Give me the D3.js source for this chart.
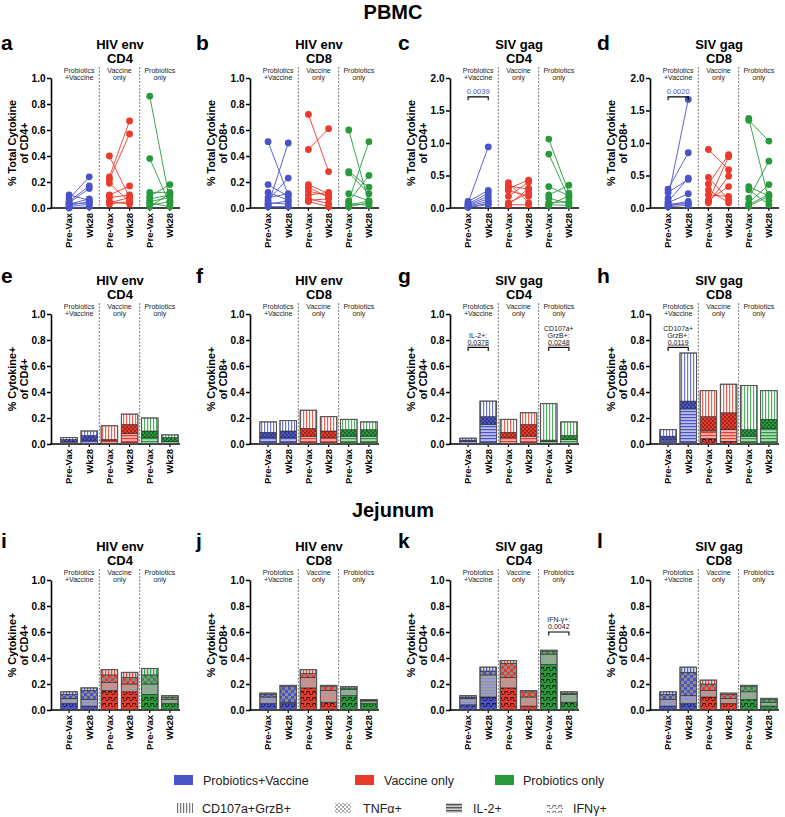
<!DOCTYPE html>
<html><head><meta charset="utf-8">
<script src="https://cdn.jsdelivr.net/npm/d3@7"></script>
<style>
body{margin:0;background:#fff}
svg{display:block;font-family:"Liberation Sans",Arial,Helvetica,sans-serif}
</style>
</head><body>
<svg id="c" width="785" height="817"></svg>
<script>
// ---------- data ----------
const groups = ["Probiotics+Vaccine","Vaccine only","Probiotics only"];
const groupLines = [["Probiotics","+Vaccine"],["Vaccine","only"],["Probiotics","only"]];
const timepoints = ["Pre-Vax","Wk28"];
const cytokines = ["IFNγ+","IL-2+","TNFα+","CD107a+GrzB+"]; // stack order, bottom to top
const legendCytokines = ["CD107a+GrzB+","TNFα+","IL-2+","IFNγ+"];
const groupColors = ["#4a54c8","#e93a2b","#299a3b"];
const ticksTo1 = [0,0.2,0.4,0.6,0.8,1.0];
const ticksTo2 = [0,0.5,1.0,1.5,2.0];

// paired [Pre-Vax, Wk28] per animal
const aBlue  = [[0.10,0.06],[0.07,0.24],[0.05,0.17],[0.04,0.15],[0.03,0.07],[0.03,0.04],[0.02,0.05],[0.01,0.03],[0.00,0.01]];
const aRed   = [[0.40,0.08],[0.24,0.67],[0.22,0.57],[0.19,0.05],[0.10,0.17],[0.08,0.10],[0.05,0.03],[0.04,0.08],[0.03,0.05]];
const aGreen = [[0.86,0.05],[0.38,0.03],[0.12,0.12],[0.09,0.18],[0.07,0.10],[0.05,0.08],[0.04,0.01],[0.02,0.05],[0.01,0.11]];

const bBlue  = [[0.51,0.10],[0.18,0.09],[0.12,0.06],[0.08,0.11],[0.06,0.23],[0.04,0.03],[0.03,0.055],[0.02,0.50],[0.01,0.01]];
const bRed   = [[0.72,0.28],[0.45,0.61],[0.18,0.11],[0.16,0.08],[0.13,0.095],[0.10,0.12],[0.07,0.035],[0.06,0.07],[0.05,0.01]];
const bGreen = [[0.60,0.04],[0.28,0.16],[0.27,0.11],[0.11,0.055],[0.055,0.51],[0.05,0.25],[0.035,0.02],[0.01,0.04],[0.02,0.055]];

const cBlue  = [[0.10,0.27],[0.08,0.94],[0.06,0.23],[0.05,0.18],[0.04,0.14],[0.03,0.10],[0.02,0.07],[0.01,0.05]];
const cRed   = [[0.39,0.08],[0.34,0.29],[0.30,0.43],[0.27,0.18],[0.18,0.40],[0.08,0.23],[0.05,0.05],[0.05,0.30]];
const cGreen = [[1.06,0.23],[0.83,0.15],[0.33,0.19],[0.20,0.35],[0.15,0.07],[0.08,0.10],[0.05,0.04],[0.04,0.19]];

const dBlue  = [[0.29,0.85],[0.24,0.44],[0.15,1.67],[0.10,0.46],[0.08,0.22],[0.05,0.10],[0.03,0.08],[0.02,0.04],[0.06,0.06]];
const dRed   = [[0.90,0.59],[0.47,0.13],[0.37,0.82],[0.28,0.08],[0.10,0.79],[0.08,0.49],[0.12,0.33],[0.20,0.18]];
const dGreen = [[1.38,0.12],[1.35,1.03],[0.33,0.18],[0.28,0.05],[0.15,0.72],[0.08,0.36],[0.05,0.21],[0.03,0.18]];

// stacked bars: 6 bars (group x timepoint), each [IFNγ, IL-2, TNFα, CD107a]
const barsE = [[0.005,0.01,0.02,0.015],[0.005,0.02,0.04,0.035],[0.005,0.02,0.01,0.105],[0.01,0.07,0.07,0.08],[0.005,0.045,0.05,0.10],[0.005,0.015,0.03,0.02]];
const barsF = [[0.01,0.04,0.04,0.08],[0.01,0.04,0.05,0.08],[0.01,0.05,0.06,0.14],[0.01,0.04,0.05,0.11],[0.01,0.05,0.05,0.08],[0.01,0.05,0.05,0.06]];
const barsG = [[0.005,0.015,0.01,0.015],[0.01,0.14,0.06,0.12],[0.005,0.045,0.04,0.10],[0.01,0.05,0.09,0.09],[0.005,0.015,0.01,0.28],[0.005,0.03,0.03,0.105]];
const barsH = [[0.01,0.02,0.03,0.05],[0.01,0.26,0.06,0.37],[0.04,0.06,0.11,0.20],[0.02,0.09,0.13,0.22],[0.01,0.05,0.05,0.34],[0.01,0.11,0.07,0.22]];

const barsI = [[0.05,0.04,0.03,0.02],[0.03,0.05,0.07,0.02],[0.15,0.06,0.06,0.04],[0.14,0.06,0.05,0.04],[0.12,0.08,0.07,0.05],[0.05,0.03,0.02,0.01]];
const barsJ = [[0.05,0.05,0.02,0.01],[0.05,0.01,0.12,0.01],[0.17,0.08,0.03,0.03],[0.06,0.09,0.03,0.01],[0.11,0.05,0.01,0.01],[0.05,0.02,0.005,0.005]];
const barsK = [[0.04,0.05,0.01,0.01],[0.10,0.17,0.03,0.03],[0.17,0.08,0.11,0.02],[0.03,0.07,0.04,0.01],[0.35,0.08,0.02,0.01],[0.06,0.06,0.01,0.01]];
const barsL = [[0.03,0.05,0.04,0.02],[0.05,0.06,0.18,0.04],[0.10,0.05,0.05,0.03],[0.05,0.04,0.03,0.01],[0.08,0.06,0.04,0.01],[0.03,0.03,0.02,0.01]];

const linePanels = [
  {letter:"a", title:["HIV env","CD4"], ylab:["% Total Cytokine","of CD4+"], ymax:1, ticks:ticksTo1, data:[aBlue,aRed,aGreen]},
  {letter:"b", title:["HIV env","CD8"], ylab:["% Total Cytokine","of CD8+"], ymax:1, ticks:ticksTo1, data:[bBlue,bRed,bGreen]},
  {letter:"c", title:["SIV gag","CD4"], ylab:["% Total Cytokine","of CD4+"], ymax:2, ticks:ticksTo2, data:[cBlue,cRed,cGreen], sig:{group:0,y:1.71,text:"0.0039"}},
  {letter:"d", title:["SIV gag","CD8"], ylab:["% Total Cytokine","of CD8+"], ymax:2, ticks:ticksTo2, data:[dBlue,dRed,dGreen], sig:{group:0,y:1.71,text:"0.0020"}}
];
const pbmcBarPanels = [
  {letter:"e", title:["HIV env","CD4"], ylab:["% Cytokine+","of CD4+"], data:barsE},
  {letter:"f", title:["HIV env","CD8"], ylab:["% Cytokine+","of CD8+"], data:barsF},
  {letter:"g", title:["SIV gag","CD4"], ylab:["% Cytokine+","of CD4+"], data:barsG,
    notes:[{group:0,y:0.742,lines:["IL-2+:","0.0378"]},{group:2,y:0.742,lines:["CD107a+","GrzB+:","0.0248"]}]},
  {letter:"h", title:["SIV gag","CD8"], ylab:["% Cytokine+","of CD8+"], data:barsH,
    notes:[{group:0,y:0.742,lines:["CD107a+","GrzB+:","0.0119"]}]}
];
const jejBarPanels = [
  {letter:"i", title:["HIV env","CD4"], ylab:["% Cytokine+","of CD4+"], data:barsI},
  {letter:"j", title:["HIV env","CD8"], ylab:["% Cytokine+","of CD8+"], data:barsJ},
  {letter:"k", title:["SIV gag","CD4"], ylab:["% Cytokine+","of CD4+"], data:barsK,
    notes:[{group:2,y:0.60,lines:["IFN-γ+:","0.0042"]}]},
  {letter:"l", title:["SIV gag","CD8"], ylab:["% Cytokine+","of CD8+"], data:barsL}
];

// ---------- layout ----------
const axisXs = [51,250,450,650];
const letterXs = [1,196,398,597];
const rowTops = [78,314,580];
const letterYs = [50,283,548];
const PH = 130, PW = 129;
const keys = ["g0pre","g0wk","g1pre","g1wk","g2pre","g2wk"];

const svg = d3.select("#c");
const defs = svg.append("defs");

function pattern(id,w,h,draw){
  const p = defs.append("pattern").attr("id",id).attr("patternUnits","userSpaceOnUse").attr("width",w).attr("height",h);
  draw(p);
}
function ifnMarks(p, bg, ink){
  p.append("rect").attr("width",6).attr("height",6).attr("fill",bg);
  p.append("path").attr("d","M0.8,4.2V1.5H3.6M3.6,1.5V3.2M3.6,4.5H5.6").attr("stroke",ink).attr("stroke-width",0.9).attr("fill","none");
}
["pbmc","jej"].forEach(style=>{
  groupColors.forEach((col,gi)=>{
    const pre = `p-${style}-${gi}`;
    // IFN
    pattern(`${pre}-0`,6,6,p=>ifnMarks(p,col,"#111"));
    // IL-2 horizontal stripes
    pattern(`${pre}-1`,3,3,p=>{
      p.append("rect").attr("width",3).attr("height",3).attr("fill", style==="pbmc" ? d3.interpolateRgb(col,"#fff")(0.62) : "#a2a2a2");
      p.append("rect").attr("width",3).attr("height",1.2).attr("fill", style==="pbmc" ? col : d3.interpolateRgb(col,"#fff")(0.35));
    });
    // TNF checker
    const cs = style==="pbmc" ? 2 : 3;
    pattern(`${pre}-2`,cs*2,cs*2,p=>{
      const dk = style==="pbmc" ? d3.color(col).darker(1.1).formatHex() : "#8d8d8d";
      p.append("rect").attr("width",cs*2).attr("height",cs*2).attr("fill",col);
      p.append("rect").attr("width",cs).attr("height",cs).attr("fill",dk);
      p.append("rect").attr("x",cs).attr("y",cs).attr("width",cs).attr("height",cs).attr("fill",dk);
    });
    // CD107a vertical stripes
    pattern(`${pre}-3`,3,3,p=>{
      p.append("rect").attr("width",3).attr("height",3).attr("fill", style==="pbmc" ? "#fff" : "#d8d8d8");
      p.append("rect").attr("width",1.2).attr("height",3).attr("fill", col).attr("opacity", style==="pbmc"?0.8:0.9);
    });
  });
});
// legend patterns (gray)
pattern("leg-cd107",3,3,p=>{p.append("rect").attr("width",3).attr("height",3).attr("fill","#fff");p.append("rect").attr("width",1.2).attr("height",3).attr("fill","#777");});
pattern("leg-tnf",4,4,p=>{p.append("rect").attr("width",4).attr("height",4).attr("fill","#fff");p.append("rect").attr("width",2).attr("height",2).attr("fill","#aaa");p.append("rect").attr("x",2).attr("y",2).attr("width",2).attr("height",2).attr("fill","#aaa");});
pattern("leg-il2",3,3,p=>{p.append("rect").attr("width",3).attr("height",3).attr("fill","#d0d0d0");p.append("rect").attr("width",3).attr("height",1.4).attr("fill","#555");});
pattern("leg-ifn",6,6,p=>ifnMarks(p,"#fff","#666"));

// section titles
svg.append("text").attr("x",393).attr("y",19).attr("text-anchor","middle").attr("font-size",20).attr("font-weight","bold").text("PBMC");
svg.append("text").attr("x",393).attr("y",517).attr("text-anchor","middle").attr("font-size",20).attr("font-weight","bold").text("Jejunum");

function frame(cfg, col, row, ymax, ticks){
  const ax = axisXs[col], top = rowTops[row], bot = top + PH;
  const g = svg.append("g");
  g.append("text").attr("x",letterXs[col]).attr("y",letterYs[row]).attr("font-size",21).attr("font-weight","bold").text(cfg.letter);
  g.append("text").attr("x",ax+69).attr("y",top-29.5).attr("text-anchor","middle").attr("font-size",13).attr("font-weight","bold").text(cfg.title[0]);
  g.append("text").attr("x",ax+69).attr("y",top-15.5).attr("text-anchor","middle").attr("font-size",13).attr("font-weight","bold").text(cfg.title[1]);
  // y label
  const cy = top + PH/2;
  g.append("text").attr("transform",`translate(${ax-35},${cy}) rotate(-90)`).attr("text-anchor","middle").attr("font-size",10.8).attr("font-weight","bold").text(cfg.ylab[0]);
  g.append("text").attr("transform",`translate(${ax-23},${cy}) rotate(-90)`).attr("text-anchor","middle").attr("font-size",10.8).attr("font-weight","bold").text(cfg.ylab[1]);

  const y = d3.scaleLinear().domain([0,ymax]).range([bot,top]);
  const x = d3.scaleBand().domain(keys).range([ax+8, ax+PW]).paddingInner(0.18).paddingOuter(0.09);
  const step = x.step();
  // dividers
  [2,4].forEach(i=>{
    const dx = x(keys[i]) - step*0.09;
    g.append("line").attr("x1",dx).attr("x2",dx).attr("y1",top-11).attr("y2",bot)
      .attr("stroke","#555").attr("stroke-width",0.8).attr("stroke-dasharray","2,1.5");
  });
  // group labels
  groupLines.forEach((ln,gi)=>{
    const gx = (x(keys[2*gi]) + x(keys[2*gi+1]) + x.bandwidth())/2;
    g.append("text").attr("x",gx).attr("y",top-5.5).attr("text-anchor","middle").attr("font-size",7).attr("fill","#222").text(ln[0]);
    g.append("text").attr("x",gx).attr("y",top+2).attr("text-anchor","middle").attr("font-size",7).attr("fill","#222").text(ln[1]);
  });
  // axes
  const ya = g.append("g").attr("transform",`translate(${ax},0)`)
    .call(d3.axisLeft(y).tickValues(ticks).tickFormat(d3.format(".1f")).tickSize(4).tickPadding(1.5).tickSizeOuter(0));
  ya.select(".domain").attr("stroke","#000").attr("stroke-width",1.6);
  ya.selectAll(".tick line").attr("stroke","#000").attr("stroke-width",1.5);
  ya.selectAll(".tick text").attr("font-size",10).attr("font-weight","bold").attr("fill","#000").attr("font-family",null);
  const xa = g.append("g").attr("transform",`translate(0,${bot})`)
    .call(d3.axisBottom(x).tickSize(3).tickSizeOuter(0).tickFormat(k=>k.endsWith("pre")?timepoints[0]:timepoints[1]));
  xa.select(".domain").remove();
  xa.selectAll(".tick line").attr("stroke","#000").attr("stroke-width",1.2);
  xa.selectAll(".tick text").attr("transform","rotate(-90)").attr("x",-5).attr("y",0).attr("dy","0.35em")
    .style("text-anchor","end").attr("font-size",9.5).attr("font-weight","bold").attr("fill","#000").attr("font-family",null);
  g.append("line").attr("x1",ax-0.8).attr("x2",ax+PW).attr("y1",bot).attr("y2",bot).attr("stroke","#000").attr("stroke-width",1.6);
  return {g,x,y,ax,top,bot};
}

function bracket(g, x1, x2, yy, color){
  g.append("path").attr("d",`M${x1},${yy+3.5}V${yy}H${x2}V${yy+3.5}`).attr("fill","none").attr("stroke",color).attr("stroke-width",1.1);
}

// ---------- row 1: paired lines ----------
linePanels.forEach((cfg,col)=>{
  const f = frame(cfg,col,0,cfg.ymax,cfg.ticks);
  const cx = k => f.x(k) + f.x.bandwidth()/2;
  const layer = f.g.append("g");
  cfg.data.forEach((pairs,gi)=>{
    const x0 = cx(keys[2*gi]), x1 = cx(keys[2*gi+1]);
    layer.selectAll(null).data(pairs).enter().append("line")
      .attr("x1",x0).attr("x2",x1).attr("y1",d=>f.y(d[0])).attr("y2",d=>f.y(d[1]))
      .attr("stroke",groupColors[gi]).attr("stroke-width",0.9);
  });
  cfg.data.forEach((pairs,gi)=>{
    const x0 = cx(keys[2*gi]), x1 = cx(keys[2*gi+1]);
    pairs.forEach(d=>{
      layer.append("circle").attr("cx",x0).attr("cy",f.y(d[0])).attr("r",3.4).attr("fill",groupColors[gi]);
      layer.append("circle").attr("cx",x1).attr("cy",f.y(d[1])).attr("r",3.4).attr("fill",groupColors[gi]);
    });
  });
  if(cfg.sig){
    const gi = cfg.sig.group, yy = f.y(cfg.sig.y);
    const x0 = cx(keys[2*gi]), x1 = cx(keys[2*gi+1]);
    bracket(f.g,x0,x1,yy,"#000");
    f.g.append("text").attr("x",(x0+x1)/2).attr("y",yy-2.5).attr("text-anchor","middle").attr("font-size",7.5).attr("fill",groupColors[0]).text(cfg.sig.text);
  }
});

// ---------- rows 2 & 3: stacked bars ----------
function barPanel(cfg,col,row,style){
  const f = frame(cfg,col,row,1,ticksTo1);
  const layer = f.g.append("g");
  cfg.data.forEach((segs,bi)=>{
    const gi = Math.floor(bi/2);
    const bx = f.x(keys[bi]), bw = f.x.bandwidth();
    let cum = 0;
    segs.forEach((v,ci)=>{
      layer.append("rect").attr("x",bx).attr("width",bw)
        .attr("y",f.y(cum+v)).attr("height",f.y(cum)-f.y(cum+v))
        .attr("fill",`url(#p-${style}-${gi}-${ci})`).attr("stroke","#2a2a2a").attr("stroke-width",0.6);
      cum += v;
    });
    layer.append("rect").attr("x",bx).attr("width",bw).attr("y",f.y(cum)).attr("height",f.y(0)-f.y(cum))
      .attr("fill","none").attr("stroke","#555").attr("stroke-width",1);
  });
  (cfg.notes||[]).forEach(n=>{
    const x0 = f.x(keys[2*n.group]) + f.x.bandwidth()/2, x1 = f.x(keys[2*n.group+1]) + f.x.bandwidth()/2;
    const yy = f.y(n.y);
    bracket(f.g,x0,x1,yy,"#000");
    const L = n.lines.length;
    n.lines.forEach((t,li)=>{
      const tx = f.g.append("text").attr("x",(x0+x1)/2).attr("y",yy-3-(L-1-li)*6.6).attr("text-anchor","middle")
        .attr("font-size",7).attr("fill","#222").text(t);
      if(li===L-1 && row===1) tx.attr("text-decoration","underline");
    });
  });
}
pbmcBarPanels.forEach((cfg,col)=>barPanel(cfg,col,1,"pbmc"));
jejBarPanels.forEach((cfg,col)=>barPanel(cfg,col,2,"jej"));

// ---------- legend ----------
const legendGroupX = [[174,203],[355,384],[495,523]];
groups.forEach((name,gi)=>{
  svg.append("rect").attr("x",legendGroupX[gi][0]).attr("y",775).attr("width",19).attr("height",10).attr("fill",groupColors[gi]);
  svg.append("text").attr("x",legendGroupX[gi][1]).attr("y",784.5).attr("font-size",12.5).attr("fill","#222").text(name);
});
const legendCytX = [[177,202,"leg-cd107"],[335,363,"leg-tnf"],[446,473,"leg-il2"],[547,573,"leg-ifn"]];
legendCytokines.forEach((name,ci)=>{
  svg.append("rect").attr("x",legendCytX[ci][0]).attr("y",803).attr("width",16).attr("height",10).attr("fill",`url(#${legendCytX[ci][2]})`);
  svg.append("text").attr("x",legendCytX[ci][1]).attr("y",812.5).attr("font-size",12.5).attr("fill","#222").text(name);
});
</script>
</body></html>
